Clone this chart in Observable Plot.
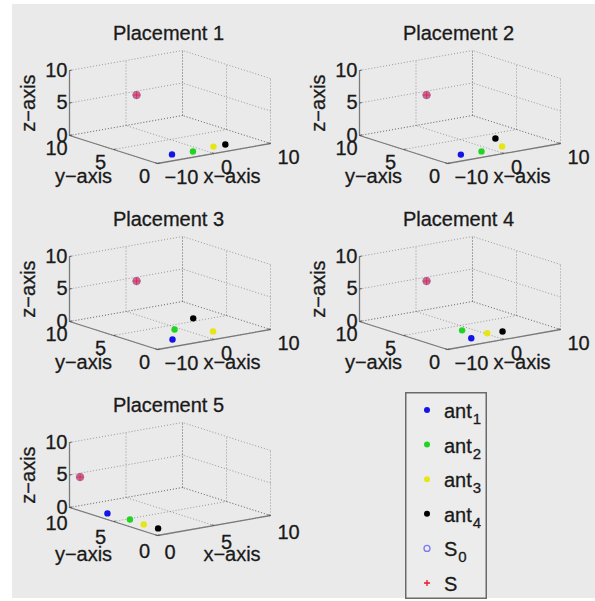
<!DOCTYPE html>
<html><head><meta charset="utf-8">
<script src="https://cdn.jsdelivr.net/npm/d3@7"></script>
<script src="https://cdn.jsdelivr.net/npm/@observablehq/plot@0.6"></script>
<style>
html,body{margin:0;padding:0;background:#fff;}
#fig{position:absolute;left:12px;top:4px;width:583px;height:594px;background:#eaeaea;font-family:"Liberation Sans",Arial,sans-serif;}
.panel{position:absolute;width:290px;height:186px;}
.panel svg{overflow:visible;background:transparent;}
#legend{position:absolute;left:393px;top:388px;overflow:visible;}
</style></head><body><div id="fig"></div>
<script>
// ---------- data ----------
const titles = ["Placement 1", "Placement 2", "Placement 3", "Placement 4", "Placement 5"];
const xTickSets = [[-10, 0, 10], [-10, 0, 10], [-10, 0, 10], [-10, 0, 10], [0, 5, 10]];
const yTicks = [0, 5, 10];
const zTicks = [0, 5, 10];
const antNames = ["ant", "ant", "ant", "ant"];
const antSubs = ["1", "2", "3", "4"];
const antColors = ["#1414e6", "#22d422", "#e6e614", "#000000"];
// antenna coordinates per placement (ant1..ant4)
const antX = [[-5.1, -1.7, 2.4, 4.5], [-5.3, -1.8, 2.3, 4.4], [-4.7, -0.9, 2.8, 5.2], [-3.3, -1.5, 0.3, 2.7], [1.1, 1.3, 1.2, 1.3]];
const antY = [[1.5, 1.3, 1.6, 1.6], [1.5, 1.4, 1.7, 3.8], [1.7, 3.9, 1.9, 5.7], [1.6, 3.8, 2.1, 1.9], [7.1, 4.8, 3.1, 1.6]];
const antZ = [0, 0, 0, 0];
// source: true S0 (o) and estimate S (+)
const sourceX = 0, sourceY = 8.8, sourceZ = 5.2;
const s0Color = "#7a7aee", sColor = "#e8182c";

// ---------- projection (MATLAB-like 3-D view) ----------
const EX = [113, 20], EY = [-88, 28], EZ = [0, 65];
function proj(B, x, y, z) {
  const u = (x - B.x0) / (B.x1 - B.x0), v = (y - B.y0) / (B.y1 - B.y0), w = (z - B.z0) / (B.z1 - B.z0);
  return [EX[0] * u + EY[0] * v + EZ[0] * w, EX[1] * u + EY[1] * v + EZ[1] * w];
}
const fmt = d => d < 0 ? "\u2212" + Math.abs(d) : String(d);
const FONT = "Liberation Sans, Arial, sans-serif";
const labelShift = [0, 0, 0, 0, 6];
const TXT = {fontSize: 20, fill: "#1a1a1a", stroke: "#1a1a1a", strokeWidth: 0.3};

const fig = document.getElementById("fig");

titles.forEach((title, i) => {
  const xt = xTickSets[i];
  const B = {x0: xt[0], x1: xt[xt.length - 1], y0: yTicks[0], y1: yTicks[yTicks.length - 1], z0: zTicks[0], z1: zTicks[zTicks.length - 1]};
  const P = (x, y, z) => proj(B, x, y, z);
  const grid = [];
  for (const x of xt) { grid.push([[x, B.y1, B.z0], [x, B.y1, B.z1]]); grid.push([[x, B.y0, B.z0], [x, B.y1, B.z0]]); }
  for (const y of yTicks) { grid.push([[B.x1, y, B.z0], [B.x1, y, B.z1]]); grid.push([[B.x0, y, B.z0], [B.x1, y, B.z0]]); }
  for (const z of zTicks) { grid.push([[B.x0, B.y1, z], [B.x1, B.y1, z]]); grid.push([[B.x1, B.y0, z], [B.x1, B.y1, z]]); }
  const axes = [
    [[B.x0, B.y0, B.z0], [B.x1, B.y0, B.z0]],
    [[B.x0, B.y0, B.z0], [B.x0, B.y1, B.z0]],
    [[B.x0, B.y1, B.z0], [B.x0, B.y1, B.z1]]
  ];
  const tx = (B.x1 - B.x0) * 0.02, ty = (B.y1 - B.y0) * 0.025;
  const ticks = [];
  for (const x of xt) ticks.push([[x, B.y0, B.z0], [x, B.y0 + ty, B.z0]]);
  for (const y of yTicks) ticks.push([[B.x0, y, B.z0], [B.x0 + tx, y, B.z0]]);
  for (const z of zTicks) ticks.push([[B.x0, B.y1, z], [B.x0 + tx, B.y1, z]]);
  const seg = (data, opts) => Plot.link(data, {
    x1: d => P(...d[0])[0], y1: d => P(...d[0])[1],
    x2: d => P(...d[1])[0], y2: d => P(...d[1])[1], ...opts
  });
  const idx = [0, 1, 2, 3];
  const sh = labelShift[i];
  const plot = Plot.plot({
    width: 290, height: 186, margin: 0,
    x: {domain: [-145, 145], axis: null},
    y: {domain: [-27, 159], axis: null},
    color: {type: "identity"},
    style: {background: "transparent", fontFamily: FONT, overflow: "visible"},
    marks: [
      seg(grid, {stroke: "#555", strokeWidth: 1, strokeDasharray: "1,2", strokeOpacity: 0.55}),
      seg(axes, {stroke: "#7a7a7a", strokeWidth: 1.3}),
      seg(ticks, {stroke: "#555", strokeWidth: 1}),
      // tick labels
      Plot.text(xt, {x: d => P(d, B.y0, B.z0)[0], y: d => P(d, B.y0, B.z0)[1], text: fmt, textAnchor: "start", dx: 7, dy: 14 + sh * 0.5, ...TXT}),
      Plot.text(yTicks, {x: d => P(B.x0, d, B.z0)[0], y: d => P(B.x0, d, B.z0)[1], text: fmt, textAnchor: "middle", dx: -13, dy: 13 + sh * 0.5, ...TXT}),
      Plot.text(zTicks, {x: d => P(B.x0, B.y1, d)[0], y: d => P(B.x0, B.y1, d)[1], text: fmt, textAnchor: "end", dx: -2, dy: 0, ...TXT}),
      // axis titles
      Plot.text(["x\u2212axis"], {x: () => P((B.x0 + B.x1) / 2, B.y0, B.z0)[0], y: () => P((B.x0 + B.x1) / 2, B.y0, B.z0)[1], text: d => d, dx: 18, dy: 23 + sh, ...TXT}),
      Plot.text(["y\u2212axis"], {x: () => P(B.x0, (B.y0 + B.y1) / 2, B.z0)[0], y: () => P(B.x0, (B.y0 + B.y1) / 2, B.z0)[1], text: d => d, dx: -30, dy: 27 + sh, ...TXT}),
      Plot.text(["z\u2212axis"], {x: () => P(B.x0, B.y1, (B.z0 + B.z1) / 2)[0], y: () => P(B.x0, B.y1, (B.z0 + B.z1) / 2)[1], text: d => d, dx: -41, rotate: -90, ...TXT}),
      // title
      Plot.text([title], {frameAnchor: "top", text: d => d, dx: 11, dy: 21, ...TXT}),
      // source S0 and estimate S
      Plot.dot([0], {x: () => P(sourceX, sourceY, sourceZ)[0], y: () => P(sourceX, sourceY, sourceZ)[1], r: 3.8, fill: "#c8648e", stroke: "#a868a8", strokeWidth: 0.8}),
      Plot.dot([0], {x: () => P(sourceX, sourceY, sourceZ)[0], y: () => P(sourceX, sourceY, sourceZ)[1], symbol: "plus", r: 2.6, stroke: sColor, strokeWidth: 1, strokeOpacity: 0.6}),
      // antennas
      Plot.dot(idx, {x: k => P(antX[i][k], antY[i][k], antZ[k])[0], y: k => P(antX[i][k], antY[i][k], antZ[k])[1], r: 3.2, fill: k => antColors[k], stroke: "none"})
    ]
  });
  const div = document.createElement("div");
  div.className = "panel";
  div.style.left = (i % 2) * 290 + "px";
  div.style.top = Math.floor(i / 2) * 186 + "px";
  div.appendChild(plot);
  fig.appendChild(div);
});

// ---------- legend ----------
const legendLabels = [...antNames, "S", "S"];
const legendSubs = [...antSubs, "0", ""];
const legendKinds = ["dot", "dot", "dot", "dot", "circle", "plus"];
const legendColors = [...antColors, s0Color, sColor];
const lw = 82, lh = 207;
const svg = d3.select(fig).append("svg").attr("id", "legend").attr("width", lw).attr("height", lh)
  .style("font-family", FONT);
svg.append("rect").attr("x", 0.75).attr("y", 0.75).attr("width", lw - 1.5).attr("height", lh - 1.5)
  .attr("fill", "#ececec").attr("stroke", "#6a6a6a").attr("stroke-width", 1.5);
legendLabels.forEach((lab, k) => {
  const cy = 18 + 34.6 * k;
  const g = svg.append("g");
  if (legendKinds[k] === "dot") g.append("circle").attr("cx", 22).attr("cy", cy).attr("r", 3).attr("fill", legendColors[k]);
  else if (legendKinds[k] === "circle") g.append("circle").attr("cx", 22).attr("cy", cy).attr("r", 3).attr("fill", "none").attr("stroke", legendColors[k]).attr("stroke-width", 1.3);
  else g.append("path").attr("d", `M${19},${cy}H${25}M${22},${cy - 3}V${cy + 3}`).attr("stroke", legendColors[k]).attr("stroke-width", 1.3);
  const t = g.append("text").attr("x", 39).attr("y", cy + 8).attr("font-size", 20)
    .attr("fill", "#1a1a1a").attr("stroke", "#1a1a1a").attr("stroke-width", 0.3);
  t.append("tspan").text(lab);
  if (legendSubs[k]) t.append("tspan").attr("dy", 6).attr("dx", 1).attr("font-size", 15).text(legendSubs[k]);
});
</script>
</body></html>
